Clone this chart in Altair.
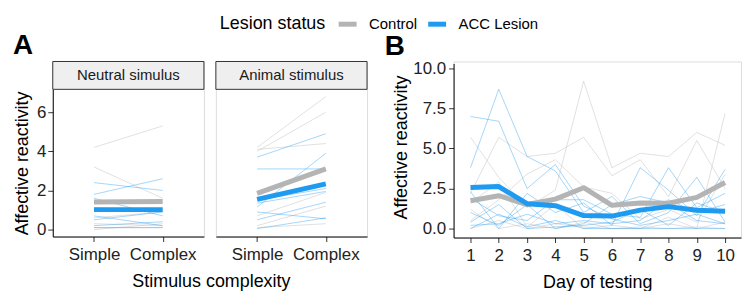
import altair as alt
import pandas as pd

FONT = "Liberation Sans"

# ---------------- data ----------------
groups = ["Control", "ACC Lesion"]
group_colors = ["#b4b4b4", "#1e9bf0"]
stimuli = ["Neutral simulus", "Animal stimulus"]
complexity = ["Simple", "Complex"]

# Panel A: individual animals, value for Simple and Complex stimuli
neutral_control_simple = [4.2, 3.2, 0.3, 0.1, 0.0, 0.6]
neutral_control_complex = [5.3, 1.6, 0.2, 0.1, 0.3, 0.9]
neutral_lesion_simple = [2.4, 1.8, 1.6, 0.5, 0.2, 0.1, 0.7, 1.1]
neutral_lesion_complex = [2.0, 2.6, 0.7, 0.9, 0.4, 0.1, 0.2, 1.0]
animal_control_simple = [4.2, 4.0, 4.1, 0.7, 0.2, 0.1]
animal_control_complex = [6.8, 6.0, 4.4, 1.9, 1.2, 0.3]
animal_lesion_simple = [3.7, 3.1, 1.15, 1.35, 0.9, 0.5, 0.05, 1.5]
animal_lesion_complex = [4.9, 3.1, 3.9, 1.95, 0.55, 1.4, 0.6, 2.1]

# Panel A: group means (Simple, Complex)
neutral_control_mean = [1.41, 1.43]
neutral_lesion_mean = [1.02, 1.02]
animal_control_mean = [1.85, 3.10]
animal_lesion_mean = [1.54, 2.34]

# Panel B: days of testing
days = [1, 2, 3, 4, 5, 6, 7, 8, 9, 10]
control_c1 = [5.7, 3.2, 1.3, 2.4, 9.2, 3.8, 4.7, 4.5, 6.0, 5.2]
control_c2 = [2.2, 5.7, 4.5, 4.7, 5.7, 3.3, 4.3, 2.0, 5.5, 2.5]
control_c3 = [1.6, 2.9, 0.1, 1.5, 0.0, 0.2, 0.0, 0.7, 0.0, 7.2]
control_c4 = [0.5, 1.8, 3.4, 4.3, 2.6, 2.2, 0.6, 1.2, 0.4, 3.4]
control_c5 = [0.0, 0.5, 0.0, 0.3, 0.1, 0.0, 0.1, 0.0, 0.1, 0.0]
control_c6 = [1.2, 0.0, 0.3, 0.0, 0.4, 0.0, 0.0, 0.3, 0.0, 0.4]
lesion_l1 = [7.0, 6.7, 2.5, 4.0, 1.4, 0.6, 0.2, 0.5, 0.9, 0.3]
lesion_l2 = [3.8, 8.7, 4.5, 3.6, 1.0, 2.0, 0.3, 1.0, 3.2, 0.4]
lesion_l3 = [2.3, 0.0, 2.2, 1.0, 1.6, 0.2, 3.8, 2.4, 0.8, 3.7]
lesion_l4 = [1.9, 0.8, 0.5, 1.8, 1.8, 0.9, 0.7, 3.8, 1.3, 2.2]
lesion_l5 = [1.0, 0.2, 1.5, 0.0, 0.3, 1.5, 2.0, 1.6, 0.5, 0.3]
lesion_l6 = [0.0, 0.9, 0.1, 0.5, 0.0, 0.0, 0.0, 0.0, 0.0, 0.0]
lesion_l7 = [0.4, 1.5, 0.0, 0.1, 0.2, 0.4, 1.2, 0.2, 1.6, 1.0]
lesion_l8 = [0.2, 0.3, 0.9, 0.3, 0.5, 0.3, 0.5, 1.8, 1.0, 1.5]
control_day_mean = [1.74, 2.05, 1.50, 1.84, 2.55, 1.45, 1.60, 1.58, 1.95, 2.88]
lesion_day_mean = [2.57, 2.62, 1.55, 1.43, 0.81, 0.78, 1.15, 1.37, 1.14, 1.08]

# ---------------- tables ----------------
rowsA = []
for stim, grp, s_vals, c_vals in [
    (stimuli[0], groups[0], neutral_control_simple, neutral_control_complex),
    (stimuli[0], groups[1], neutral_lesion_simple, neutral_lesion_complex),
    (stimuli[1], groups[0], animal_control_simple, animal_control_complex),
    (stimuli[1], groups[1], animal_lesion_simple, animal_lesion_complex),
]:
    for i, (s, c) in enumerate(zip(s_vals, c_vals)):
        sid = f"{grp}-{i}"
        rowsA.append(dict(stimulus=stim, group=grp, subject=sid, complexity="Simple", value=s))
        rowsA.append(dict(stimulus=stim, group=grp, subject=sid, complexity="Complex", value=c))
dfA = pd.DataFrame(rowsA)

rowsAm = []
for stim, grp, vals in [
    (stimuli[0], groups[0], neutral_control_mean),
    (stimuli[0], groups[1], neutral_lesion_mean),
    (stimuli[1], groups[0], animal_control_mean),
    (stimuli[1], groups[1], animal_lesion_mean),
]:
    for cx, v in zip(complexity, vals):
        rowsAm.append(dict(stimulus=stim, group=grp, complexity=cx, value=v))
dfAm = pd.DataFrame(rowsAm)

rowsB = []
for grp, series in [
    (groups[0], [control_c1, control_c2, control_c3, control_c4, control_c5, control_c6]),
    (groups[1], [lesion_l1, lesion_l2, lesion_l3, lesion_l4, lesion_l5, lesion_l6, lesion_l7, lesion_l8]),
]:
    for i, vals in enumerate(series):
        for d, v in zip(days, vals):
            rowsB.append(dict(group=grp, subject=f"{grp}-{i}", day=d, value=v))
dfB = pd.DataFrame(rowsB)

rowsBm = []
for grp, vals in [(groups[0], control_day_mean), (groups[1], lesion_day_mean)]:
    for d, v in zip(days, vals):
        rowsBm.append(dict(group=grp, day=d, value=v))
dfBm = pd.DataFrame(rowsBm)

dfHeader = pd.DataFrame({"stimulus": stimuli})

# ---------------- styling ----------------
A_W, A_H, HDR_H = 152, 148, 28
B_W, B_H, B_TOP = 289, 175, 2

color_scale = alt.Scale(domain=groups, range=group_colors)
legend = alt.Legend(
    title="Lesion status", orient="none", legendX=168, legendY=-49,
    direction="horizontal", titleOrient="left", gridAlign="none",
    titleFont=FONT, titleFontSize=18, titleFontWeight="normal", titleColor="#000000",
    labelFont=FONT, labelFontSize=15, labelColor="#000000",
    symbolType="stroke", symbolSize=324, symbolStrokeWidth=5, symbolOpacity=1,
    labelOffset=10, columnPadding=0, titlePadding=10,
)
color_enc = alt.Color("group:N", scale=color_scale, legend=legend)

ax = dict(domainColor="#000000", domainWidth=1, tickColor="#333333", tickWidth=1,
          tickSize=5, labelColor="#222222", labelFont=FONT, labelFontSize=17,
          titleFont=FONT, titleFontSize=18, titleFontWeight="normal",
          titleColor="#000000", grid=False)

# panel A view includes the strip on top: data range starts below it
yA = alt.Scale(domain=[-0.356, 7.17], nice=False, zero=False, range=[A_H + HDR_H, HDR_H])
xA = alt.Scale(type="point", domain=complexity, padding=0.6)
yB = alt.Scale(domain=[-0.56, 10.31], nice=False, zero=False, range=[B_H + B_TOP, B_TOP])
xB = alt.Scale(domain=[0.402, 10.563], nice=False, zero=False)

THIN_OP = 0.4


def a_plot(stim, first):
    xaxis = alt.Axis(title=None, labelAngle=0, labelPadding=5, **ax)
    if first:
        yaxis = alt.Axis(title="Affective reactivity", values=[0, 2, 4, 6],
                         labelPadding=2, titlePadding=5, titleY=HDR_H + A_H / 2, **ax)
    else:
        yaxis = None
    x = alt.X("complexity:N", scale=xA, sort=complexity, axis=xaxis)
    y = alt.Y("value:Q", scale=yA, axis=yaxis)
    # facet strip (header box + label) at the top of the panel
    hdr = alt.Chart(dfHeader).transform_filter(alt.datum.stimulus == stim)
    layers = [
        hdr.mark_rect(fill="#efefef", stroke="#333333", strokeWidth=1).encode(
            x=alt.value(0), x2=alt.value(A_W), y=alt.value(0), y2=alt.value(HDR_H)),
        hdr.mark_text(font=FONT, fontSize=15, color="#1a1a1a", baseline="middle").encode(
            x=alt.value(A_W / 2), y=alt.value(HDR_H / 2), text="stimulus:N"),
    ]
    layers.append(
        alt.Chart(dfA).transform_filter(alt.datum.stimulus == stim).mark_line(
            strokeWidth=1, opacity=THIN_OP, strokeJoin="round"
        ).encode(x=x, y=y, color=color_enc, detail="subject:N")
    )
    for g in groups:
        layers.append(
            alt.Chart(dfAm).transform_filter(
                (alt.datum.stimulus == stim) & (alt.datum.group == g)
            ).mark_line(strokeWidth=5, strokeJoin="round").encode(x=x, y=y, color=color_enc)
        )
    return alt.layer(*layers).properties(width=A_W, height=A_H + HDR_H)


innerA = alt.hconcat(a_plot(stimuli[0], True), a_plot(stimuli[1], False), spacing=10).properties(
    title=alt.TitleParams("Stimulus complexity", orient="bottom", anchor="middle",
                          font=FONT, fontSize=18, fontWeight="normal", color="#000000",
                          offset=10, dx=21)
)
panelA = alt.vconcat(innerA).properties(
    title=alt.TitleParams("A", anchor="start", font=FONT, fontSize=28,
                          fontWeight="bold", color="#000000", offset=1)
)

xBenc = alt.X("day:Q", scale=xB, axis=alt.Axis(title="Day of testing", values=days,
                                               format="d", labelPadding=5,
                                               titlePadding=10, **ax))
yBenc = alt.Y("value:Q", scale=yB, axis=alt.Axis(title="Affective reactivity",
                                                 values=[0, 2.5, 5, 7.5, 10], format=".1f",
                                                 labelPadding=3, titlePadding=2,
                                                 titleY=86, **ax))
thinB = alt.Chart(dfB).mark_line(strokeWidth=1, opacity=THIN_OP, strokeJoin="round").encode(
    x=xBenc, y=yBenc, color=color_enc, detail="subject:N")
layersB = [thinB]
for g in groups:
    layersB.append(
        alt.Chart(dfBm).transform_filter(alt.datum.group == g).mark_line(
            strokeWidth=5, strokeJoin="round").encode(x=xBenc, y=yBenc, color=color_enc)
    )
panelB = alt.layer(*layersB).properties(
    width=B_W, height=B_H + B_TOP,
    title=alt.TitleParams("B", anchor="start", font=FONT, fontSize=28,
                          fontWeight="bold", color="#000000", offset=-1, dx=-8),
)

chart = alt.hconcat(panelA, panelB, spacing=16).properties(
    padding={"left": 5, "top": 4, "right": 0, "bottom": 0}
).configure_view(stroke=None).configure(font=FONT)

chart.save("out.html", embed_options={"renderer": "svg", "actions": False})
